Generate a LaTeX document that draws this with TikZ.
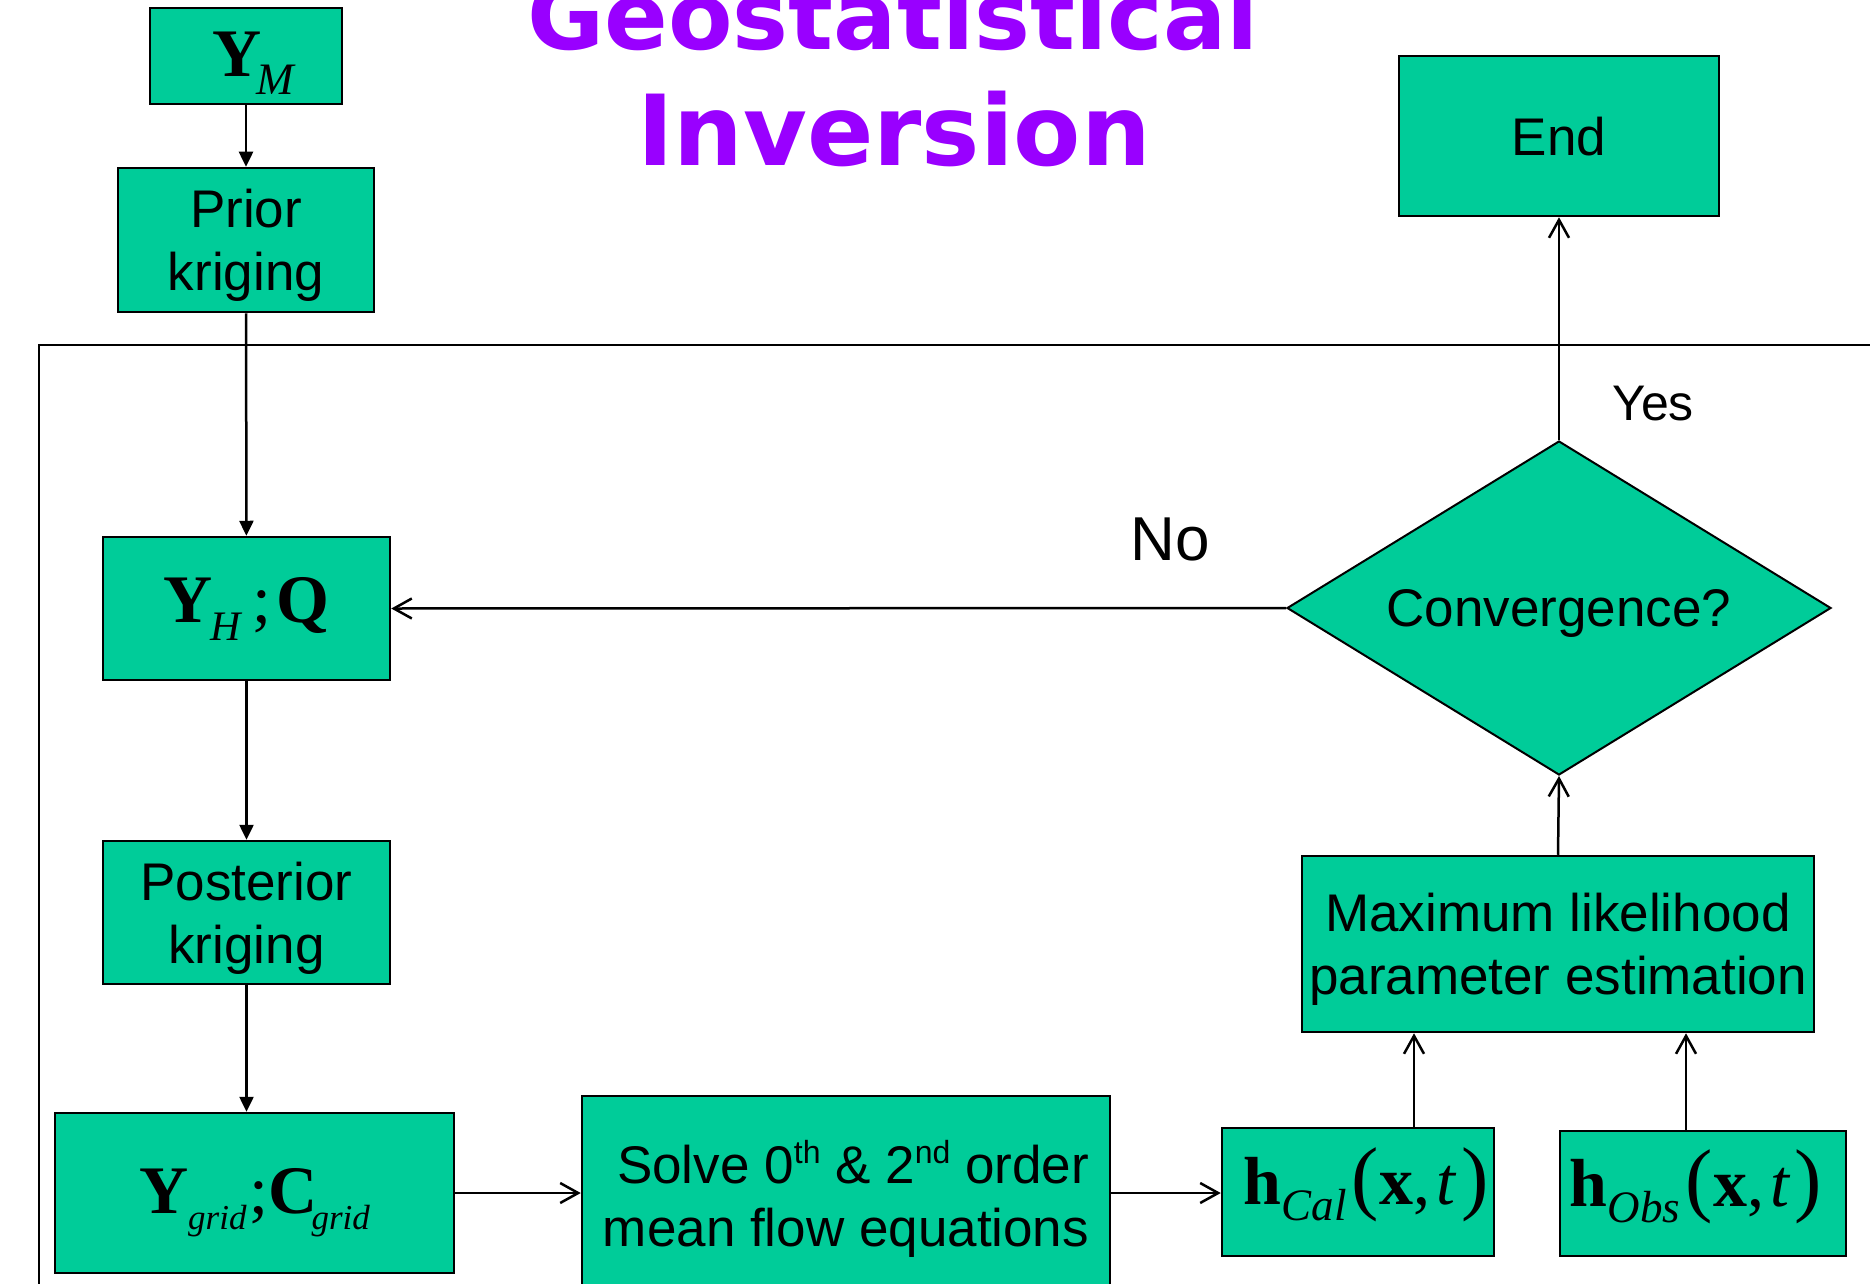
\documentclass[tikz,border=0pt]{standalone}
\usepackage{fontspec}
\setmainfont{Liberation Sans}
\newfontfamily\tms{Liberation Serif}
\newfontfamily\ttlfont{DejaVu Sans}
\usetikzlibrary{arrows.meta,shapes.geometric,calc}
\definecolor{boxgreen}{RGB}{0,204,153}
\definecolor{titlepurple}{RGB}{153,0,255}
\newcommand\mbig{\tms\fontsize{68}{68}\selectfont}
\newcommand\msub[3][42]{\raisebox{-#2pt}{\tms\itshape\fontsize{#1}{#1}\selectfont #3}}
\newcommand\supt[1]{\raisebox{20pt}{\fontsize{32}{32}\selectfont #1}}
\newcommand\bigp[1]{{\tms\fontsize{82}{82}\selectfont #1}}
\newcommand\atbase[2]{\smash{\raisebox{-#1pt}{#2}}}
\begin{document}
\begin{tikzpicture}[x=1pt,y=-1pt,
  box/.style={draw=black,line width=2.5pt,fill=boxgreen,inner sep=0pt,align=center,
    font=\fontsize{53}{63}\selectfont},
  sbox/.style={box,text depth=0pt},
  fa/.style={line width=2.5pt,-{Triangle[length=15pt,width=14pt]}},
  oa/.style={line width=2.5pt,-{Straight Barb[length=18pt,width=20pt,line width=2.5pt]}},
  lbl/.style={inner sep=0pt}]
\useasboundingbox (0,0) rectangle (1870,1284);
% frame
\draw[line width=2.2pt] (1872,345) -- (39,345) -- (39,1290);
% title
\node[lbl,anchor=base,text=titlepurple,font=\ttlfont\bfseries\fontsize{94}{115}\selectfont] (t1) at (893,50) {Geostatistical};
\node[lbl,anchor=base,text=titlepurple,font=\ttlfont\bfseries\fontsize{98}{115}\selectfont] (t2) at (894,166) {Inversion};
% nodes
\node[box,minimum width=192,minimum height=96] (ym) at (246,56) {\atbase{21}{\hspace*{14pt}\mbig\textbf{Y}\hspace{-5pt}\msub[45]{18}{M}}};
\node[sbox,minimum width=256,minimum height=144] (prior) at (246,240) {Prior\\kriging};
\node[box,minimum width=287,minimum height=143] (yh) at (246.5,608.5) {\atbase{14}{\mbig\textbf{Y}\hspace{-2pt}\msub{18}{H}\hspace{12pt};\hspace{5pt}\textbf{Q}}};
\node[sbox,minimum width=287,minimum height=143] (post) at (246.5,912.5) {Posterior\\kriging};
\node[box,minimum width=399,minimum height=160] (ygrid) at (254.5,1193) {\atbase{20}{\mbig\textbf{Y}\msub[35]{16}{grid}\hspace{3pt};\textbf{C}\hspace{-6pt}\msub[35]{16}{grid}}};
\node[sbox,minimum width=528,minimum height=194] (solve) at (846,1193) {\hspace*{14pt}Solve 0\supt{th} \& 2\supt{nd} order\\mean flow equations};
\node[box,minimum width=272,minimum height=128] (hcal) at (1358,1192) {\atbase{12}{\hspace*{16pt}\mbig\textbf{h}\msub[45]{16}{Cal}\hspace{5pt}\bigp{(}\hspace{1pt}\textbf{x},\hspace{6pt}\textit{t}\hspace{4pt}\bigp{)}}};
\node[box,minimum width=286,minimum height=125] (hobs) at (1703,1193.5) {\atbase{13}{\mbig\textbf{h}\msub[45]{16}{Obs}\hspace{5pt}\bigp{(}\hspace{1pt}\textbf{x},\hspace{6pt}\textit{t}\hspace{4pt}\bigp{)}\hspace*{14pt}}};
\node[sbox,minimum width=512,minimum height=176] (ml) at (1558,944) {Maximum likelihood\\parameter estimation};
\node[sbox,shape=diamond,aspect=1.63,minimum width=544,minimum height=334,line width=2pt] (conv) at (1559,608) {Convergence?};
\node[sbox,minimum width=320,minimum height=160] (end) at (1559,136) {End};
% labels
\node[lbl,font=\fontsize{50}{60}\selectfont] (yes) at (1653,404) {Yes};
\node[lbl,font=\fontsize{62}{70}\selectfont] (no) at (1170,539) {No};
% connectors
\coordinate (c1) at (1414,0);
\coordinate (c2) at (1686,0);
\draw[fa] (ym) -- (prior);
\draw[fa] (prior) -- (yh);
\draw[fa] (yh) -- (post);
\draw[fa] (post.south) -- (post.south |- ygrid.north);
\draw[oa] (ygrid.east) -- (ygrid.east -| solve.west);
\draw[oa] (solve.east) -- (solve.east -| hcal.west);
\draw[oa] (hcal.north -| c1) -- (ml.south -| c1);
\draw[oa] (hobs.north -| c2) -- (ml.south -| c2);
\draw[oa] (ml.north) -- (conv.south);
\draw[oa] (conv.north) -- (end.south);
\draw[oa] (conv.west) -- (yh.east);
\end{tikzpicture}
\end{document}
